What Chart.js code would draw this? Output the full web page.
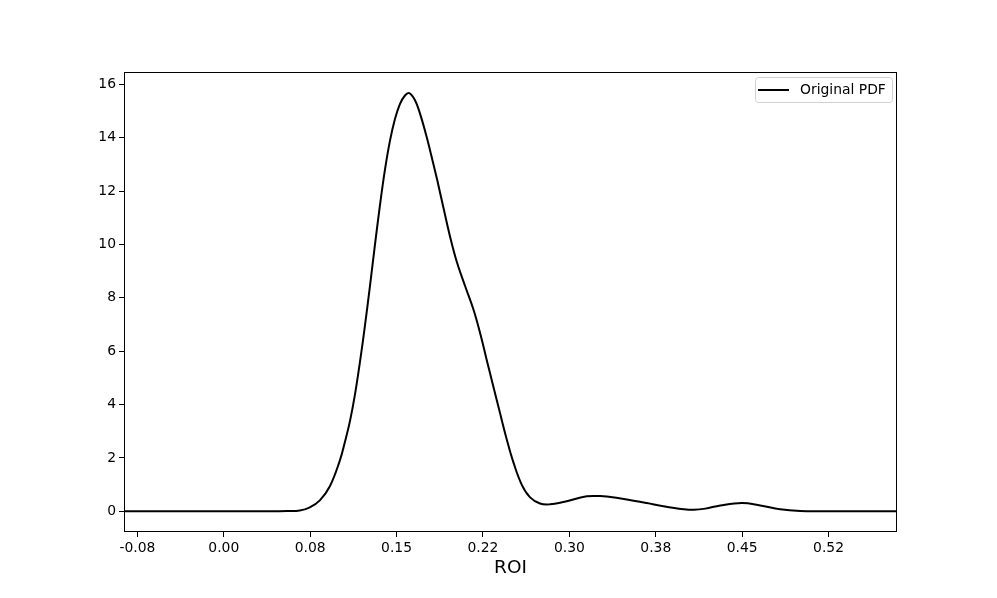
<!DOCTYPE html>
<html>
<head>
<meta charset="utf-8">
<title>Original PDF</title>
<script src="https://cdn.jsdelivr.net/npm/chart.js@4"></script>
<style>
    html, body { margin: 0; padding: 0; background: #fff; }
    #wrap { width: 997px; height: 598px; }
</style>
</head>
<body>
<div id="wrap"><canvas id="pdfChart" width="997" height="598"></canvas></div>
<script>
// data
const roiValues = [-0.0866, -0.05, 0, 0.03, 0.045, 0.055, 0.066, 0.0747, 0.0834, 0.0921, 0.1008, 0.1051,
    0.1095, 0.1138, 0.1182, 0.1225, 0.1269, 0.1312, 0.1355, 0.1399, 0.1442, 0.1486, 0.1529, 0.1573,
    0.161, 0.1659, 0.1703, 0.1761, 0.1818, 0.1853, 0.1905, 0.1964, 0.2022, 0.2094, 0.2166, 0.2224,
    0.2282, 0.234, 0.2398, 0.2456, 0.2513, 0.2586, 0.2659, 0.2745, 0.2832, 0.2948, 0.3151, 0.3267,
    0.3325, 0.3499, 0.3672, 0.3817, 0.399, 0.408, 0.418, 0.431, 0.4498, 0.4657, 0.483, 0.5004,
    0.52, 0.5844];
const pdfValues = [0, 0, 0, 0, 0.005, 0.01, 0.03, 0.15, 0.41, 0.94, 1.91, 2.59,
    3.37, 4.35, 5.59, 6.94, 8.44, 9.97, 11.44, 12.79, 13.87, 14.7, 15.26, 15.58,
    15.67, 15.41, 14.91, 14.03, 13.04, 12.41, 11.41, 10.3, 9.36, 8.45, 7.58, 6.7,
    5.68, 4.68, 3.68, 2.7, 1.85, 1.0, 0.52, 0.29, 0.26, 0.35, 0.56, 0.57,
    0.55, 0.44, 0.31, 0.19, 0.08, 0.055, 0.1, 0.22, 0.31, 0.22, 0.075, 0.01,
    0, 0];
const xTickValues = [-0.075, 0, 0.075, 0.15, 0.225, 0.3, 0.375, 0.45, 0.525];
const xTickLabels = ['-0.08', '0.00', '0.08', '0.15', '0.22', '0.30', '0.38', '0.45', '0.52'];
const yTickValues = [0, 2, 4, 6, 8, 10, 12, 14, 16];

const FONT = 'DejaVu Sans';

// box round the plot + legend in the top right corner
const framePlugin = {
    id: 'frame',
    afterDraw(chart) {
        const ctx = chart.ctx;
        const a = chart.chartArea;
        ctx.save();
        ctx.strokeStyle = '#000';
        ctx.lineWidth = 1;
        ctx.strokeRect(a.left + 0.5, a.top + 0.5, a.right - a.left - 1, a.bottom - a.top - 1);

        const ds = chart.data.datasets[0];
        const w = 137, h = 25;
        const x = a.right - 5 - w, y = a.top + 5;
        ctx.beginPath();
        ctx.roundRect(x + 0.5, y + 0.5, w, h, 3);
        ctx.fillStyle = 'rgba(255,255,255,0.8)';
        ctx.fill();
        ctx.strokeStyle = '#d0d0d0';
        ctx.stroke();

        ctx.beginPath();
        ctx.moveTo(x + 3, y + h / 2 + 0.5);
        ctx.lineTo(x + 34, y + h / 2 + 0.5);
        ctx.strokeStyle = ds.borderColor;
        ctx.lineWidth = 2;
        ctx.stroke();

        ctx.fillStyle = '#000';
        ctx.font = '13.9px "' + FONT + '"';
        ctx.textBaseline = 'middle';
        ctx.fillText(ds.label, x + 45, y + h / 2 + 1);
        ctx.restore();
    }
};

const ctx = document.getElementById('pdfChart');
const pdfChart = new Chart(ctx, {
    type: 'line',
    data: {
        datasets: [{
            label: 'Original PDF',
            data: roiValues.map((v, i) => ({ x: v, y: pdfValues[i] })),
            borderColor: '#000000',
            borderWidth: 2,
            pointRadius: 0,
            fill: false,
            tension: 0.4
        }]
    },
    options: {
        responsive: false,
        animation: false,
        layout: { padding: { top: 72, right: 100, left: 0, bottom: 19 } },
        plugins: { legend: { display: false }, tooltip: { enabled: false } },
        scales: {
            x: {
                type: 'linear',
                min: -0.0866,
                max: 0.5844,
                border: { display: false },
                grid: { drawOnChartArea: false, drawTicks: true, tickLength: 5, tickColor: '#000' },
                afterBuildTicks: (scale) => { scale.ticks = xTickValues.map(v => ({ value: v })); },
                afterFit: (scale) => { scale.height = 47; },
                ticks: {
                    autoSkip: false,
                    maxRotation: 0,
                    padding: 3,
                    color: '#000',
                    font: { family: FONT, size: 13.9 },
                    callback: (val, i) => xTickLabels[i]
                },
                title: {
                    display: true,
                    text: 'ROI',
                    color: '#000',
                    padding: { top: 2, bottom: 0 },
                    font: { family: FONT, size: 18.5 }
                }
            },
            y: {
                min: -0.776,
                max: 16.46,
                border: { display: false },
                grid: { drawOnChartArea: false, drawTicks: true, tickLength: 5, tickColor: '#000' },
                afterBuildTicks: (scale) => { scale.ticks = yTickValues.map(v => ({ value: v })); },
                afterFit: (scale) => { scale.width = 124; },
                ticks: {
                    padding: 3,
                    color: '#000',
                    font: { family: FONT, size: 13.9 },
                    callback: (val) => String(val)
                }
            }
        }
    },
    plugins: [framePlugin]
});
</script>
</body>
</html>
